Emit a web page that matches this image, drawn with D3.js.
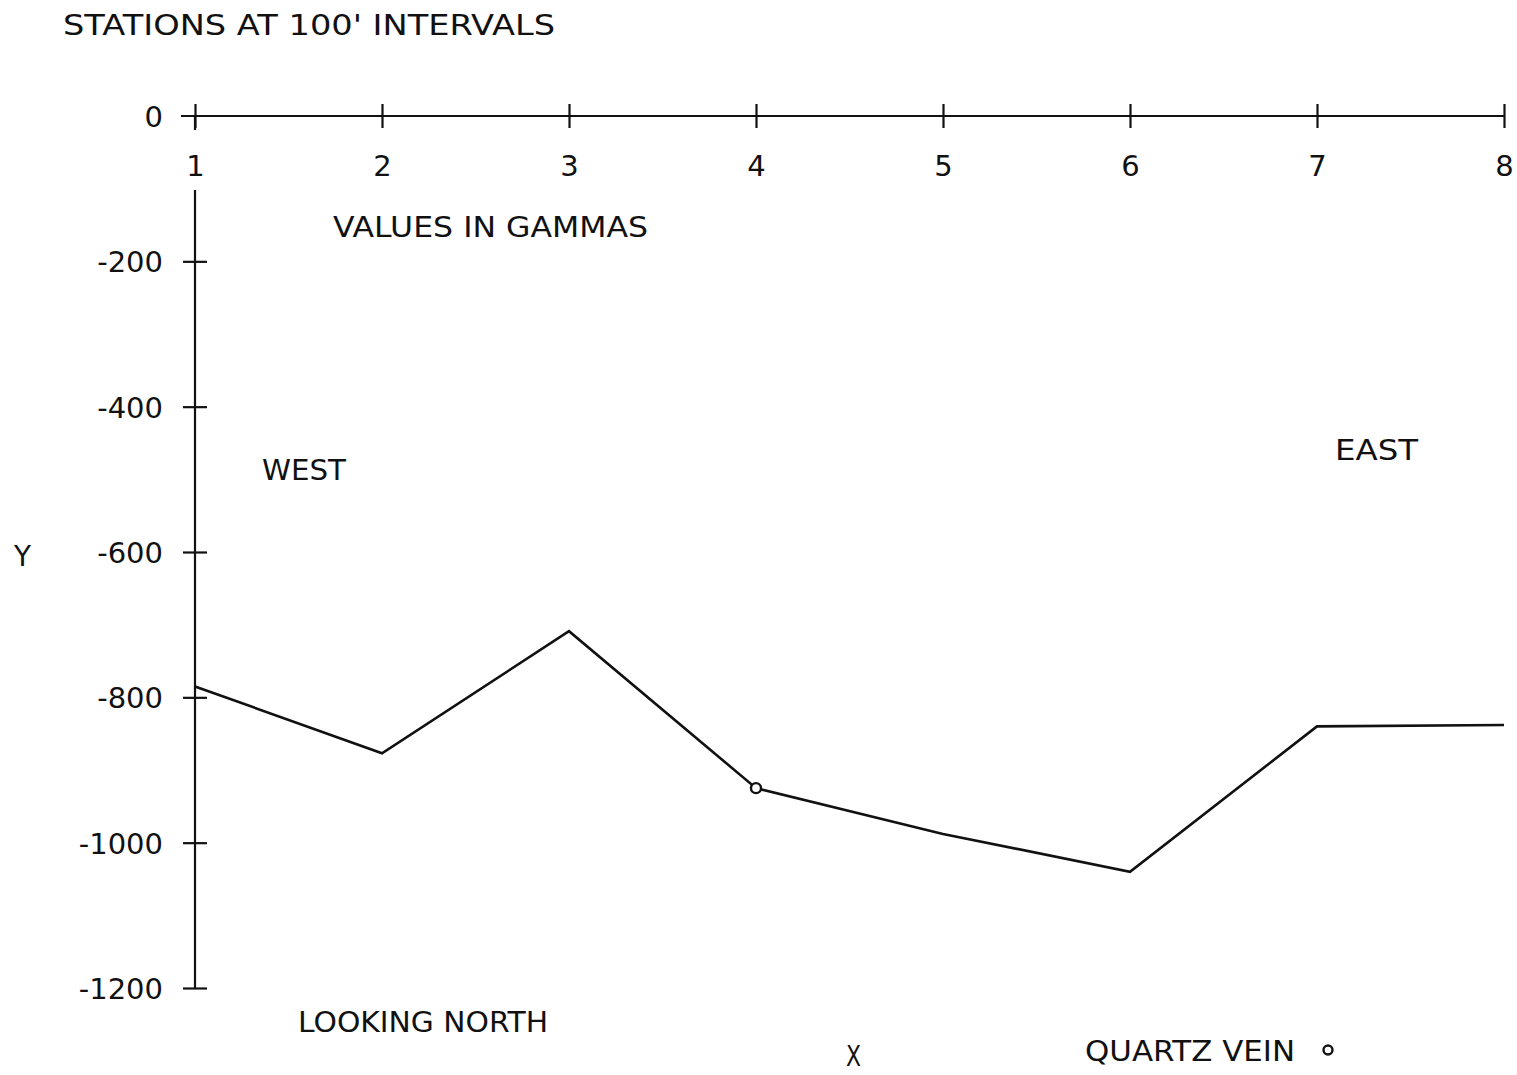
<!DOCTYPE html>
<html>
<head>
<meta charset="utf-8">
<script src="https://cdn.jsdelivr.net/npm/d3@7/dist/d3.min.js"></script>
<style>
  html, body { margin: 0; padding: 0; background: #fff; }
  svg { display: block; }
  text { font-family: "DejaVu Sans", "Liberation Sans", sans-serif; fill: #111; }
</style>
</head>
<body>
<script>
// Magnetometer traverse: stations at 100' intervals, values in gammas
const stations = [1, 2, 3, 4, 5, 6, 7, 8];
const gammas = [-785, -877, -709, -925, -988, -1040, -840, -838];
const yTickValues = [0, -200, -400, -600, -800, -1000, -1200];
const xTickValues = [1, 2, 3, 4, 5, 6, 7, 8];
const quartzVeinStation = 4;
const quartzVeinValue = -925;

const W = 1517, H = 1075;
const svg = d3.select("body").append("svg").attr("width", W).attr("height", H);

const x = d3.scaleLinear().domain([1, 8]).range([195, 1504]);
const y = d3.scaleLinear().domain([0, -1200]).range([116, 988]);

const ink = "#111";
const fs = 29;

// horizontal axis (zero line) along the top
const xAxis = svg.append("g")
  .attr("transform", `translate(0,${y(0)})`)
  .call(d3.axisBottom(x).tickValues(xTickValues).tickFormat(d3.format("d")).tickSize(0));
xAxis.select(".domain").remove();
xAxis.selectAll(".tick line").remove();
xAxis.selectAll(".tick")
  .append("line")
  .attr("y1", -12).attr("y2", 12)
  .attr("stroke", ink).attr("stroke-width", 2.2);
xAxis.selectAll(".tick text")
  .attr("y", 60).attr("dy", 0)
  .style("font-size", fs + "px")
  .style("font-family", null);
svg.append("line")
  .attr("x1", x(1) - 14).attr("x2", x(8))
  .attr("y1", y(0)).attr("y2", y(0))
  .attr("stroke", ink).attr("stroke-width", 2.2);

// vertical axis
const yAxis = svg.append("g")
  .attr("transform", `translate(${x(1)},0)`)
  .call(d3.axisLeft(y).tickValues(yTickValues).tickFormat(d3.format("d")).tickSize(0));
yAxis.select(".domain").remove();
yAxis.selectAll(".tick")
  .filter(d => d !== 0)
  .append("line")
  .attr("x1", -12).attr("x2", 12)
  .attr("stroke", ink).attr("stroke-width", 2.2);
yAxis.selectAll(".tick text")
  .attr("x", -32).attr("dy", "0.36em")
  .style("font-size", fs + "px")
  .style("font-family", null)
  .text(d => d < 0 ? "-" + Math.abs(d) : String(d));
// axis line, broken where the first station label sits
svg.append("line")
  .attr("x1", x(1)).attr("x2", x(1))
  .attr("y1", y(0)).attr("y2", y(0) + 14)
  .attr("stroke", ink).attr("stroke-width", 2.2);
svg.append("line")
  .attr("x1", x(1)).attr("x2", x(1))
  .attr("y1", 190).attr("y2", y(-1200))
  .attr("stroke", ink).attr("stroke-width", 2.2);

// profile line
const line = d3.line().x((d, i) => x(stations[i])).y(d => y(d));
svg.append("path")
  .datum(gammas)
  .attr("d", line)
  .attr("fill", "none")
  .attr("stroke", ink)
  .attr("stroke-width", 2.6)
  .attr("stroke-linejoin", "miter");

// quartz vein marker
svg.append("circle")
  .attr("cx", x(quartzVeinStation)).attr("cy", y(quartzVeinValue))
  .attr("r", 5)
  .attr("fill", "#fff").attr("stroke", ink).attr("stroke-width", 2.4);

// annotations
const labels = [
  { t: "STATIONS AT 100' INTERVALS", x: 63, y: 35, len: 492 },
  { t: "VALUES IN GAMMAS", x: 333, y: 237, len: 315 },
  { t: "WEST", x: 262, y: 480, len: 84 },
  { t: "EAST", x: 1335, y: 460, len: 83 },
  { t: "Y", x: 14, y: 566, len: 17 },
  { t: "LOOKING NORTH", x: 298, y: 1032, len: 250 },
  { t: "X", x: 846, y: 1066, len: 15 },
  { t: "QUARTZ VEIN", x: 1085, y: 1061, len: 210 }
];
svg.selectAll("text.note")
  .data(labels)
  .enter().append("text")
  .attr("class", "note")
  .attr("x", d => d.x).attr("y", d => d.y)
  .attr("textLength", d => d.len)
  .attr("lengthAdjust", "spacingAndGlyphs")
  .style("font-size", fs + "px")
  .text(d => d.t);

// legend symbol for quartz vein
svg.append("circle")
  .attr("cx", 1328).attr("cy", 1050)
  .attr("r", 4.5)
  .attr("fill", "#fff").attr("stroke", ink).attr("stroke-width", 2.4);
</script>
</body>
</html>
